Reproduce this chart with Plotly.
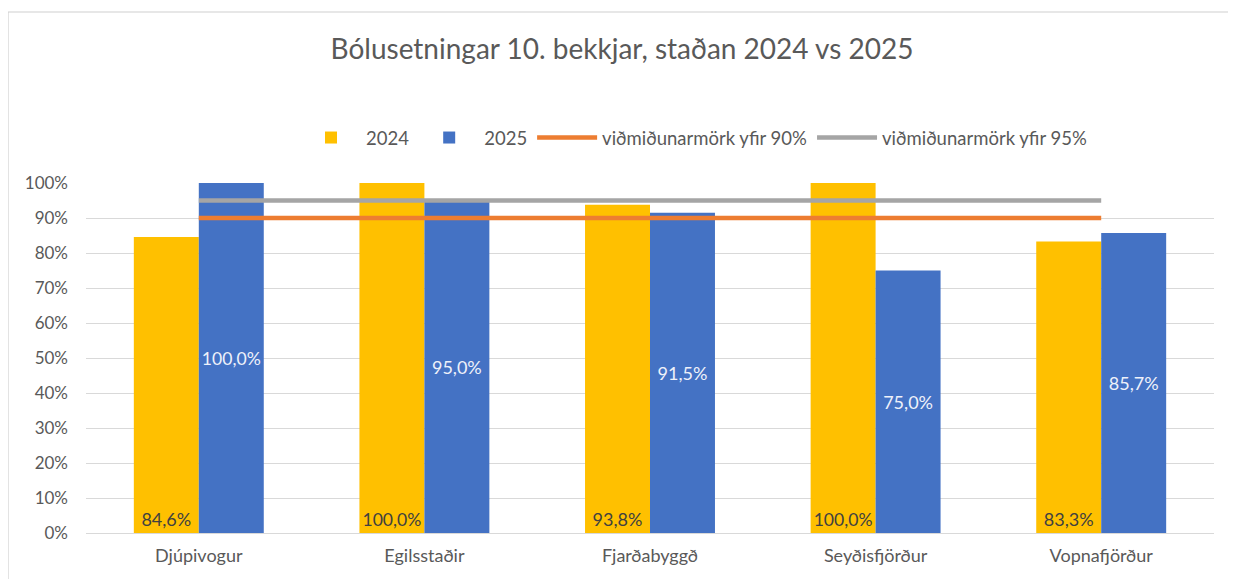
import plotly.graph_objects as go

categories = ["Djúpivogur", "Egilsstaðir", "Fjarðabyggð", "Seyðisfjörður", "Vopnafjörður"]
values_2024 = [0.846, 1.0, 0.938, 1.0, 0.833]
values_2025 = [1.0, 0.95, 0.915, 0.75, 0.857]
threshold_90 = [0.90] * len(categories)
threshold_95 = [0.95] * len(categories)
y_ticks = [0, 0.1, 0.2, 0.3, 0.4, 0.5, 0.6, 0.7, 0.8, 0.9, 1.0]

def fmt(v):
    return f"{v*100:.1f}%".replace(".", ",")

FONT = "Lato, Open Sans, sans-serif"

fig = go.Figure()
fig.add_trace(go.Bar(
    x=categories, y=values_2024, name="2024",
    marker=dict(color="#ffc000", line=dict(width=0)),
    text=[fmt(v) for v in values_2024], textposition="inside",
    insidetextanchor="start", textangle=0,
    textfont=dict(color="#404040", size=18, family=FONT),
))
fig.add_trace(go.Bar(
    x=categories, y=values_2025, name="2025",
    marker=dict(color="#4472c4", line=dict(width=0)),
    text=[fmt(v) for v in values_2025], textposition="inside",
    insidetextanchor="middle", textangle=0,
    textfont=dict(color="#eef1fa", size=18, family=FONT),
))
fig.add_trace(go.Scatter(
    x=categories, y=threshold_90, name="viðmiðunarmörk yfir 90%",
    mode="lines", line=dict(color="#ed7d31", width=4.5),
))
fig.add_trace(go.Scatter(
    x=categories, y=threshold_95, name="viðmiðunarmörk yfir 95%",
    mode="lines", line=dict(color="#a5a5a5", width=4.5),
))

W, H = 1228, 571
L, R, T, B = 78, 22, 175, 46
PW, PH = W - L - R, H - T - B

fig.update_layout(
    width=W, height=H,
    margin=dict(l=L, r=R, t=T, b=B, autoexpand=False),
    paper_bgcolor="white", plot_bgcolor="white",
    font=dict(family=FONT, color="#595959", size=17),
    barmode="group", bargap=0.424, bargroupgap=0,
    title=dict(text="Bólusetningar 10. bekkjar, staðan 2024 vs 2025",
               x=(614 - 0) / W, xanchor="center", y=1 - 41 / H, yanchor="middle",
               font=dict(size=28, color="#595959", family=FONT)),
    legend=dict(orientation="h", x=(694 - 8 - L) / PW, xanchor="center",
                y=(H - B - 130) / PH, yref="paper", yanchor="middle",
                font=dict(size=18.5, color="#595959"),
                itemwidth=60, traceorder="normal", bgcolor="rgba(0,0,0,0)"),
    xaxis=dict(showgrid=False, showline=False, ticks="", ticklabelstandoff=10,
               tickfont=dict(size=18, color="#595959")),
    yaxis=dict(range=[0, 1.0], tickvals=y_ticks, tickformat=".0%",
               showgrid=True, gridcolor="#d9d9d9", gridwidth=1.3,
               zeroline=True, zerolinecolor="#d9d9d9", zerolinewidth=1.3,
               showline=False, ticks="", ticklabelstandoff=17,
               tickfont=dict(size=17, color="#595959")),
    shapes=[dict(type="rect", xref="paper", yref="paper",
                 x0=(0 - L) / PW, x1=(1222 - L) / PW,
                 y0=(H - B - 590) / PH, y1=(H - B - 4) / PH,
                 line=dict(color="#d0d0d0", width=1.2), layer="below")],
)

fig.write_html("out.html")
